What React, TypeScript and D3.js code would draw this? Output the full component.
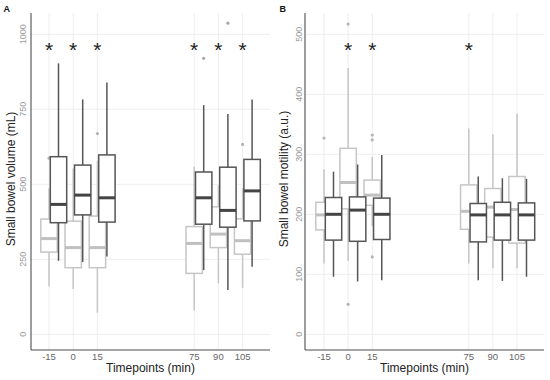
import React from "react";
import * as d3 from "d3";

const timepoints = [-15, 0, 15, 75, 90, 105];

// Panel A: Small bowel volume (mL) — [lo, q1, median, q3, hi]
const volLight = [
  [159, 274, 319, 384, 487],
  [151, 222, 289, 377, 553],
  [72, 222, 289, 394, 579],
  [79, 203, 303, 359, 559],
  [170, 289, 334, 425, 498],
  [155, 267, 312, 385, 487],
];
const volLightOut = [[587], [], [669], [], [], [633]];
const volDark = [
  [245, 372, 433, 592, 903],
  [241, 398, 464, 564, 783],
  [259, 374, 455, 598, 839],
  [214, 367, 455, 541, 764],
  [148, 357, 413, 557, 734],
  [225, 378, 478, 583, 783],
];
const volDarkOut = [[], [], [], [920], [1037], []];
const volStars = [-15, 0, 15, 75, 90, 105];
const volTicks = [0, 250, 500, 750, 1000];

// Panel B: Small bowel motility (a.u.)
const motLight = [
  [118, 174, 199, 220, 275],
  [122, 209, 253, 310, 444],
  [180, 215, 232, 257, 296],
  [118, 175, 205, 249, 343],
  [110, 162, 212, 243, 333],
  [110, 152, 208, 263, 368],
];
const motLightOut = [[327], [517, 50], [332, 324, 129], [], [], []];
const motDark = [
  [96, 157, 200, 228, 271],
  [88, 155, 207, 229, 283],
  [90, 158, 200, 227, 299],
  [90, 154, 199, 218, 263],
  [89, 157, 199, 220, 260],
  [96, 157, 199, 219, 259],
];
const motDarkOut = [[], [], [], [], [], []];
const motStars = [0, 15, 75];
const motTicks = [0, 100, 200, 300, 400, 500];

const FONT = "'Liberation Sans', Arial, Helvetica, sans-serif";
const LIGHT = "#c6c6c6";
const DARK = "#555555";
const GRID = "#ececec";

type PanelProps = {
  left: number;
  right: number;
  xRange: [number, number];
  yDomain: [number, number];
  ticks: number[];
  light: number[][];
  lightOut: number[][];
  dark: number[][];
  darkOut: number[][];
  stars: number[];
  yTitle: string;
  yTitleX: number;
  tickX: number;
};

const TOP = 13;
const BOTTOM = 350;
const BOXW = 16.4;
const DOFF = 9.5;

function Box({ cx, s, y, color, medColor }: { cx: number; s: number[]; y: d3.ScaleLinear<number, number>; color: string; medColor: string }) {
  const [lo, q1, med, q3, hi] = s;
  return (
    <g>
      <line x1={cx} x2={cx} y1={y(hi)} y2={y(q3)} stroke={color} strokeWidth={1.5} />
      <line x1={cx} x2={cx} y1={y(q1)} y2={y(lo)} stroke={color} strokeWidth={1.5} />
      <rect x={cx - BOXW / 2} y={y(q3)} width={BOXW} height={y(q1) - y(q3)} fill="#fff" stroke={color} strokeWidth={1.5} />
      <line x1={cx - BOXW / 2} x2={cx + BOXW / 2} y1={y(med)} y2={y(med)} stroke={medColor} strokeWidth={3} />
    </g>
  );
}

function Panel(p: PanelProps) {
  const x = d3.scaleLinear().domain([-15, 105]).range(p.xRange);
  const y = d3.scaleLinear().domain(p.yDomain).range([334.3, 34.3]);
  const plotMidX = (p.left + p.right) / 2;
  const plotMidY = 179;
  return (
    <g>
      {p.ticks.map((t) => (
        <line key={"h" + t} x1={p.left} x2={p.right} y1={y(t)} y2={y(t)} stroke={GRID} strokeWidth={0.9} />
      ))}
      {timepoints.map((t) => (
        <line key={"v" + t} x1={x(t)} x2={x(t)} y1={TOP} y2={BOTTOM} stroke={GRID} strokeWidth={0.9} />
      ))}
      {timepoints.map((t, i) => (
        <g key={"l" + t}>
          <Box cx={x(t)} s={p.light[i]} y={y} color={LIGHT} medColor="#c0c0c0" />
          {p.lightOut[i].map((o, j) => (
            <circle key={j} cx={x(t)} cy={y(o)} r={1.6} fill="#b5b5b5" />
          ))}
        </g>
      ))}
      {timepoints.map((t, i) => (
        <g key={"d" + t}>
          <Box cx={x(t) + DOFF} s={p.dark[i]} y={y} color={DARK} medColor="#444" />
          {p.darkOut[i].map((o, j) => (
            <circle key={j} cx={x(t) + DOFF} cy={y(o)} r={1.6} fill="#a8a8a8" />
          ))}
        </g>
      ))}
      {p.stars.map((t) => (
        <text key={"s" + t} x={x(t)} y={57} fontSize={21} textAnchor="middle" fontFamily={FONT} fill="#222">
          *
        </text>
      ))}
      <line x1={p.left} x2={p.left} y1={TOP} y2={BOTTOM} stroke="#4d4d4d" strokeWidth={1.1} />
      <line x1={p.left} x2={p.right} y1={BOTTOM} y2={BOTTOM} stroke="#4d4d4d" strokeWidth={1.1} />
      {p.ticks.map((t) => (
        <text
          key={"yt" + t}
          transform={`translate(${p.tickX},${y(t)}) rotate(-90)`}
          textAnchor="middle"
          fontSize={9}
          fontFamily={FONT}
          fill="#9a9a9a"
        >
          {t}
        </text>
      ))}
      {timepoints.map((t) => (
        <text key={"xt" + t} x={x(t)} y={360} textAnchor="middle" fontSize={9.5} fontFamily={FONT} fill="#666">
          {t}
        </text>
      ))}
      <text x={plotMidX} y={372} textAnchor="middle" fontSize={12} fontFamily={FONT} fill="#222">
        Timepoints (min)
      </text>
      <text
        transform={`translate(${p.yTitleX},${plotMidY}) rotate(-90)`}
        textAnchor="middle"
        fontSize={12}
        fontFamily={FONT}
        fill="#222"
      >
        {p.yTitle}
      </text>
    </g>
  );
}

export default function App() {
  return (
    <div style={{ position: "fixed", left: 0, top: 0 }}>
      <svg width={550} height={380} style={{ display: "block", background: "#fff" }}>
        <rect width={550} height={380} fill="#fff" />
        <Panel
          left={31}
          right={270}
          xRange={[49, 242.6]}
          yDomain={[0, 1000]}
          ticks={volTicks}
          light={volLight}
          lightOut={volLightOut}
          dark={volDark}
          darkOut={volDarkOut}
          stars={volStars}
          yTitle="Small bowel volume (mL)"
          yTitleX={14.5}
          tickX={25.5}
        />
        <Panel
          left={305}
          right={544}
          xRange={[324, 517]}
          yDomain={[0, 500]}
          ticks={motTicks}
          light={motLight}
          lightOut={motLightOut}
          dark={motDark}
          darkOut={motDarkOut}
          stars={motStars}
          yTitle="Small bowel motility (a.u.)"
          yTitleX={287.5}
          tickX={301.5}
        />
        <text x={3.5} y={12} fontSize={9} fontWeight="bold" fontFamily={FONT} fill="#111">
          A
        </text>
        <text x={279.5} y={12} fontSize={9} fontWeight="bold" fontFamily={FONT} fill="#111">
          B
        </text>
      </svg>
    </div>
  );
}
